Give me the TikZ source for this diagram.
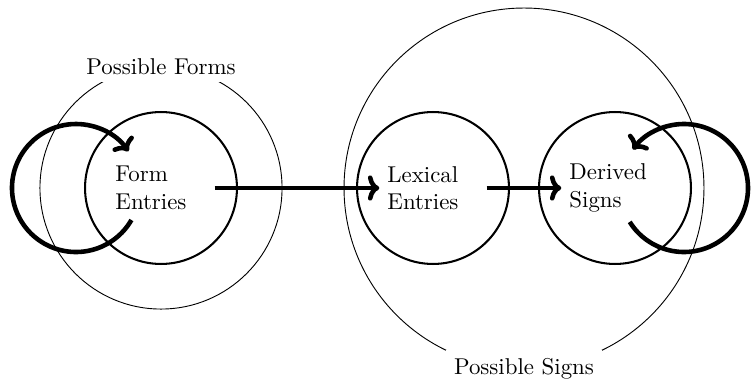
\documentclass[tikz,border=0pt]{standalone}
\usepackage{tikz}
\usetikzlibrary{arrows.meta,positioning}

\begin{document}
\begin{tikzpicture}[x=0.437pt,y=0.437pt,
    entry/.style={text width=1.4cm, align=left},
    ring/.style={draw, circle, line width=0.9pt, minimum size=66.4pt},
    region/.style={draw, circle, thin},
    regionlabel/.style={fill=white},
    flow/.style={-{To[length=5pt,width=11pt]}, line width=2pt}]
  \useasboundingbox (0,-194) rectangle (751,188);
  \node[region, minimum size=105.8pt] (forms) at (161,0) {};
  \node[region, minimum size=157.3pt] (signs) at (524,0) {};
  \node[regionlabel] (formslabel) at (forms.north) {Possible Forms};
  \node[regionlabel] (signslabel) at (signs.south) {Possible Signs};
  \node[entry] (form) at (161,0) {Form\\Entries};
  \node[entry] (lexical) at (433,0) {Lexical\\Entries};
  \node[entry] (derived) at (615,0) {Derived\\Signs};
  \foreach \n in {form,lexical,derived}
    \node[ring] (\n-ring) at (\n) {};
  \coordinate (formloop) at (76,0);
  \coordinate (derivedloop) at (684,0);
  \draw[flow] (formloop) ++(-30:64) arc[start angle=-30, end angle=-325, radius=64];
  \draw[flow] (derivedloop) ++(-148:64) arc[start angle=-148, end angle=143, radius=64];
  \draw[flow] (form) -- (lexical);
  \draw[flow] (lexical) -- (derived);
\end{tikzpicture}
\end{document}
